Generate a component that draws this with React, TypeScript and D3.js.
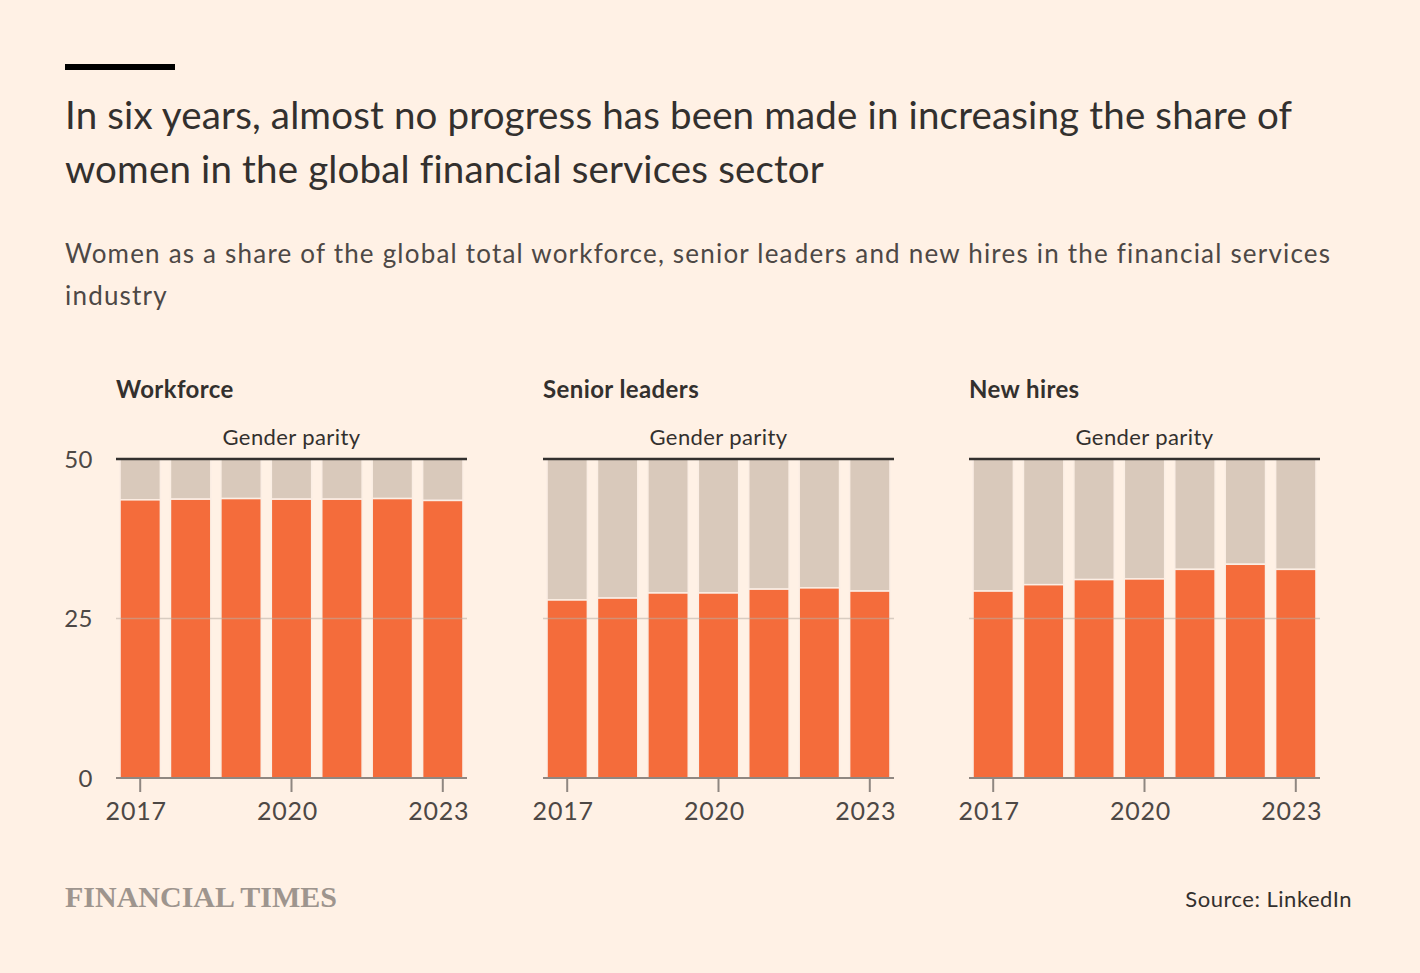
import React from 'react';
import * as d3 from 'd3';

const years = ['2017', '2018', '2019', '2020', '2021', '2022', '2023'];
const tickYears = ['2017', '2020', '2023'];
const panelTitles = ['Workforce', 'Senior leaders', 'New hires'];
const workforce = [43.6, 43.7, 43.8, 43.7, 43.7, 43.8, 43.5];
const seniorLeaders = [27.9, 28.2, 29.0, 29.0, 29.6, 29.8, 29.3];
const newHires = [29.3, 30.3, 31.1, 31.2, 32.7, 33.5, 32.7];
const yTicks = [0, 25, 50];
const parity = 50;

const W = 1420;
const H = 973;
const BG = '#fff1e5';
const ORANGE = '#f46c3b';
const GREY = '#d9c9bb';
const TEXT = '#33302e';
const SUB = '#4d4845';
const AXIS = '#8f8781';
const FONT = 'Lato, "Open Sans", sans-serif';

const panelLeft = [116, 543, 969];
const panelWidth = 351;
const plotTop = 459;
const plotBottom = 778;

const series = [workforce, seniorLeaders, newHires];

const y = d3.scaleLinear().domain([0, 50]).range([plotBottom, plotTop]);

const Panel: React.FC<{ left: number; title: string; values: number[]; showY: boolean }> = ({ left, title, values, showY }) => {
  const x = d3.scaleBand<string>()
    .domain(years)
    .range([left, left + panelWidth])
    .paddingInner(0.2)
    .paddingOuter(0.08);
  const bw = x.bandwidth();
  const mid = left + panelWidth / 2;
  return (
    <g>
      <text x={left} y={398} fontSize={24} fontWeight={700} fill={TEXT} fontFamily={FONT} letterSpacing={0.4}>{title}</text>
      <text x={mid} y={445} fontSize={22} fill={TEXT} textAnchor="middle" fontFamily={FONT} letterSpacing={0.4}>Gender parity</text>
      {showY && yTicks.map(t => (
        <text key={t} x={93} y={y(t)} dy="0.36em" fontSize={24} fill={SUB} textAnchor="end" fontFamily={FONT} letterSpacing={0.5}>{t}</text>
      ))}
      {values.map((v, i) => (
        <g key={years[i]}>
          <rect x={x(years[i])} y={y(parity)} width={bw} height={y(v) - y(parity)} fill={GREY} stroke="#fbeee4" strokeWidth={1.5} />
          <rect x={x(years[i])} y={y(v)} width={bw} height={y(0) - y(v)} fill={ORANGE} stroke="#fbeee4" strokeWidth={1.5} />
        </g>
      ))}
      <line x1={left} x2={left + panelWidth} y1={y(25)} y2={y(25)} stroke="#b9aea5" strokeWidth={1.5} opacity={0.55} />
      <line x1={left} x2={left + panelWidth} y1={y(0)} y2={y(0)} stroke={AXIS} strokeWidth={2} />
      <line x1={left} x2={left + panelWidth} y1={y(parity)} y2={y(parity)} stroke={TEXT} strokeWidth={2.5} />
      {tickYears.map(t => {
        const cx = (x(t) as number) + bw / 2;
        return (
          <g key={t}>
            <line x1={cx} x2={cx} y1={y(0)} y2={y(0) + 14} stroke={AXIS} strokeWidth={2} />
            <text x={cx - 4} y={820} fontSize={25} fill={SUB} textAnchor="middle" fontFamily={FONT} letterSpacing={0.8}>{t}</text>
          </g>
        );
      })}
    </g>
  );
};

export default function App() {
  return (
    <div style={{ position: 'absolute', left: 0, top: 0, width: W, height: H }}>
      <svg width={W} height={H} style={{ display: 'block', background: BG }}>
        <rect x={0} y={0} width={W} height={H} fill={BG} />
        <rect x={65} y={64} width={110} height={6} fill="#000" />
        <text x={65} fill={TEXT} fontSize={38.5} fontFamily={FONT} letterSpacing={0.15}>
          <tspan x={65} y={129}>In six years, almost no progress has been made in increasing the share of</tspan>
          <tspan x={65} y={183}>women in the global financial services sector</tspan>
        </text>
        <text x={65} fill={SUB} fontSize={26} fontFamily={FONT} letterSpacing={1.2}>
          <tspan x={65} y={263}>Women as a share of the global total workforce, senior leaders and new hires in the financial services</tspan>
          <tspan x={65} y={305}>industry</tspan>
        </text>
        {series.map((vals, i) => (
          <Panel key={panelTitles[i]} left={panelLeft[i]} title={panelTitles[i]} values={vals} showY={i === 0} />
        ))}
        <text x={65} y={907} fontSize={30} fontWeight={700} fill="#9e958e" fontFamily='"Liberation Serif", serif'>FINANCIAL TIMES</text>
        <text x={1352} y={907} fontSize={22} fill={TEXT} textAnchor="end" fontFamily={FONT} letterSpacing={0.5}>Source: LinkedIn</text>
      </svg>
    </div>
  );
}
